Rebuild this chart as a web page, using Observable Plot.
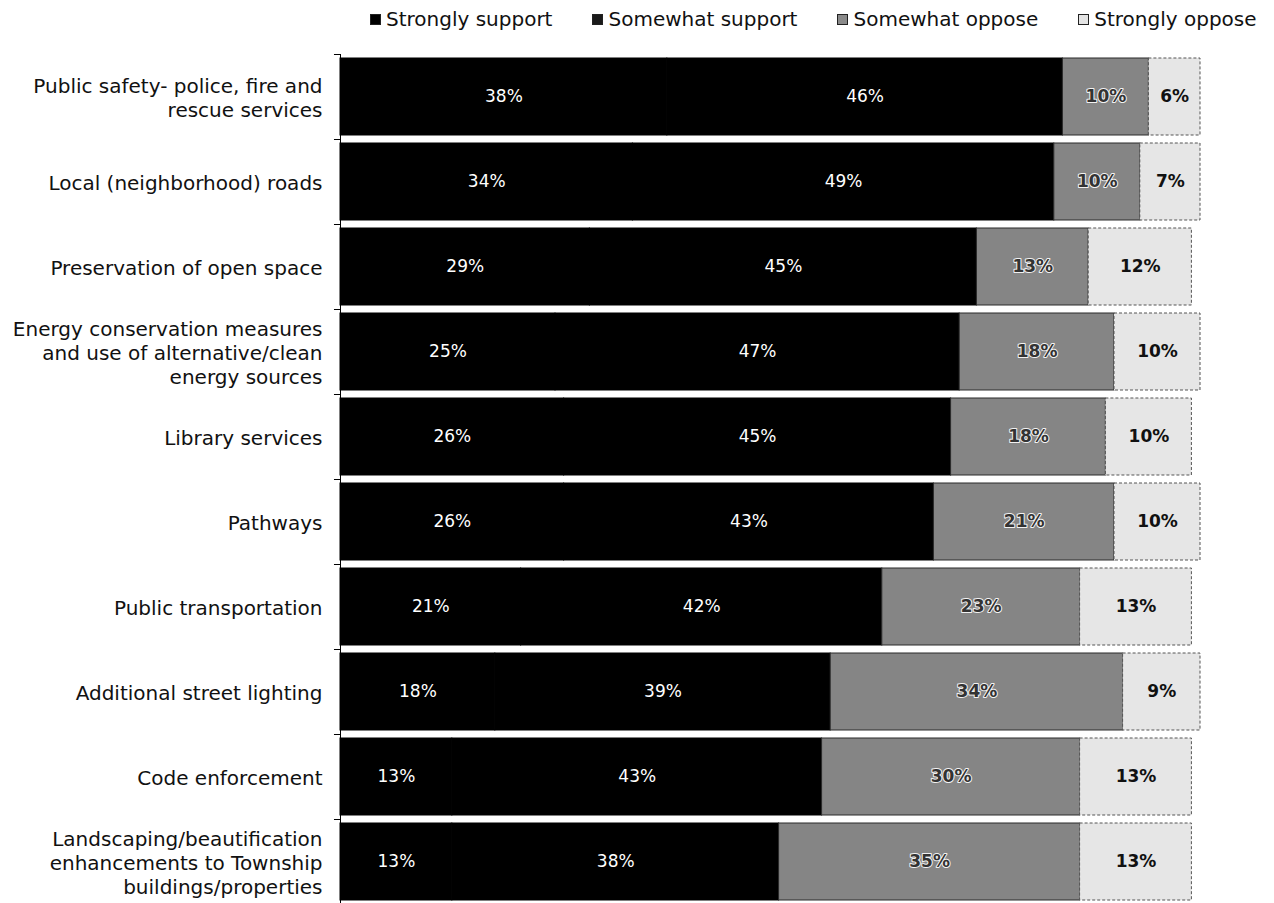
<!DOCTYPE html>
<html><head><meta charset="utf-8">
<script src="https://cdn.jsdelivr.net/npm/d3@7"></script>
<script src="https://cdn.jsdelivr.net/npm/@observablehq/plot@0.6"></script>
<style>
body{margin:0;background:#fff;font-family:"DejaVu Sans",sans-serif;}
#legend{height:38px;display:flex;align-items:center;padding-left:370px;gap:40px;box-sizing:border-box;}
.item{font-size:20px;display:flex;align-items:center;color:#111;white-space:nowrap}
.sw{width:11px;height:11px;margin-right:5px;box-sizing:border-box;border:1px solid #222}
#chart svg{display:block}
</style></head><body>
<div id="legend"></div><div id="chart"></div>
<script>
const categories = [
  "Public safety- police, fire and rescue services",
  "Local (neighborhood) roads",
  "Preservation of open space",
  "Energy conservation measures and use of alternative/clean energy sources",
  "Library services",
  "Pathways",
  "Public transportation",
  "Additional street lighting",
  "Code enforcement",
  "Landscaping/beautification enhancements to Township buildings/properties"
];
const tickLabels = [
  "Public safety- police, fire and\nrescue services",
  "Local (neighborhood) roads",
  "Preservation of open space",
  "Energy conservation measures\nand use of alternative/clean\nenergy sources",
  "Library services",
  "Pathways",
  "Public transportation",
  "Additional street lighting",
  "Code enforcement",
  "Landscaping/beautification\nenhancements to Township\nbuildings/properties"
];
const seriesNames = ["Strongly support", "Somewhat support", "Somewhat oppose", "Strongly oppose"];
const stronglySupport = [38, 34, 29, 25, 26, 26, 21, 18, 13, 13];
const somewhatSupport = [46, 49, 45, 47, 45, 43, 42, 39, 43, 38];
const somewhatOppose  = [10, 10, 13, 18, 18, 21, 23, 34, 30, 35];
const stronglyOppose  = [6, 7, 12, 10, 10, 10, 13, 9, 13, 13];

const seriesValues = [stronglySupport, somewhatSupport, somewhatOppose, stronglyOppose];
const swatchColors = ["#000", "#1a1a1a", "#8a8a8a", "#e4e4e4"];

// legend
const legend = document.getElementById("legend");
seriesNames.forEach((s, j) => {
  const it = document.createElement("div");
  it.className = "item";
  const sw = document.createElement("span");
  sw.className = "sw";
  sw.style.background = swatchColors[j];
  it.appendChild(sw);
  it.appendChild(document.createTextNode(s));
  legend.appendChild(it);
});

// stacked rows
const rows = [];
categories.forEach((c, i) => {
  let acc = 0;
  seriesValues.forEach((vals, j) => {
    const v = vals[i];
    rows.push({category: c, series: seriesNames[j], si: j, value: v, x1: acc, x2: acc + v, xm: acc + v / 2});
    acc += v;
  });
});
const support = rows.filter(d => d.si < 2);
const sOpp = rows.filter(d => d.si === 2);
const stOpp = rows.filter(d => d.si === 3);
const labelOf = new Map(categories.map((c, i) => [c, tickLabels[i]]));
const lastCat = categories[categories.length - 1];

const chart = Plot.plot({
  width: 1274, height: 866,
  marginLeft: 340, marginRight: 74, marginTop: 16, marginBottom: 0,
  x: {domain: [0, 100], axis: null},
  y: {domain: categories, axis: null, paddingInner: 0.094, paddingOuter: 0.047},
  style: {fontFamily: "DejaVu Sans", background: "white"},
  marks: [
    Plot.ruleX([0], {stroke: "#000", strokeWidth: 1}),
    Plot.ruleY(categories, {y: d => d, x1: -0.7, x2: 0, dy: -42.5, stroke: "#000"}),
    Plot.ruleY([lastCat], {y: d => d, x1: -0.7, x2: 0, dy: 42.5, stroke: "#000"}),
    Plot.barX(support, {x1: "x1", x2: "x2", y: "category", fill: "#000", stroke: "#000", strokeWidth: 1}),
    Plot.barX(sOpp, {x1: "x1", x2: "x2", y: "category", fill: "#858585", stroke: "#2a2a2a", strokeWidth: 1}),
    Plot.barX(stOpp, {x1: "x1", x2: "x2", y: "category", fill: "#e6e6e6", stroke: "#555", strokeWidth: 1, strokeDasharray: "3,2"}),
    Plot.text(support, {x: "xm", y: "category", text: d => d.value + "%", fill: "white", fontSize: 17}),
    Plot.text(sOpp, {x: "xm", y: "category", text: d => d.value + "%", fill: "#333", stroke: "#f2f2f2", strokeWidth: 2, paintOrder: "stroke", fontSize: 17, fontWeight: "bold"}),
    Plot.text(stOpp, {x: "xm", y: "category", text: d => d.value + "%", fill: "#111", fontSize: 17, fontWeight: "bold"}),
    Plot.text(categories, {y: d => d, text: d => labelOf.get(d), frameAnchor: "left", dx: -18, textAnchor: "end", lineHeight: 1.2, fontSize: 20, fill: "#111"})
  ]
});
document.getElementById("chart").appendChild(chart);
</script>
</body></html>
